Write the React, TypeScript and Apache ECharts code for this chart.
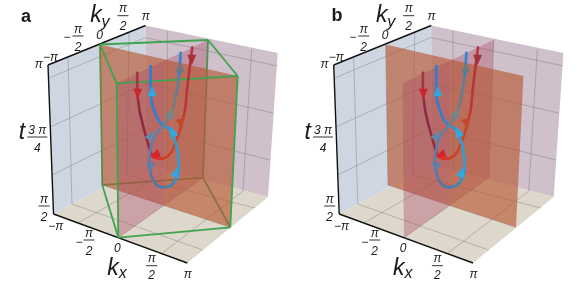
import React, { useEffect, useRef } from "react";
import * as echarts from "echarts";

type Pt = number[];

// Picture-space read-offs (panel a frame; panel b is the same figure shifted by one grid).
const wallLeft: Pt[] = [[48, 65], [145.5, 25.5], [146, 165], [53.5, 214]];
const wallRight: Pt[] = [[145.5, 25.5], [277.7, 53], [268, 197], [146, 165]];
const floor: Pt[] = [[53.5, 214], [187.3, 263], [268, 197], [146, 165]];
const planeKyRear: Pt[] = [[100, 44.5], [165, 59.4], [164, 205.4], [102.3, 185]];
const planeKyFront: Pt[] = [[165, 59.4], [237.7, 76], [230.3, 227.3], [164, 205.4]];
const planeKx: Pt[] = [[116.7, 83.3], [208, 40], [203, 177.7], [118.3, 237.7]];

const gridLines: number[][] = [
  [68, 57, 72, 204], [100, 44.5, 102.3, 185], [129, 32, 127, 175],
  [49, 78, 145, 37.6], [50, 127, 145.5, 83.5], [52, 175, 146, 128.5],
  [145, 37.6, 277.7, 66], [145.5, 83.5, 273, 113], [146, 128.5, 270, 160],
  [167.3, 31, 168, 171], [208, 40, 203, 177.7], [251.7, 49, 243, 191],
  [78.3, 223, 168, 171], [118.3, 237.7, 203, 177.7], [161.7, 253.6, 243, 191],
  [72, 204, 203, 250], [102.3, 185, 230.3, 227.3], [127, 175, 255, 208],
];
const axisLines: number[][] = [
  [48, 65, 145.5, 25.5], [48, 65, 53.5, 214], [53.5, 214, 187.3, 263],
];
const greenRear: number[][] = [
  [100, 44.5, 102.3, 185], [208, 40, 203, 177.7], [102.3, 185, 203, 177.7], [203, 177.7, 230.3, 227.3],
];
const greenFront: number[][] = [
  [100, 44.5, 208, 40], [100, 44.5, 116.7, 83.3], [208, 40, 237.7, 76], [116.7, 83.3, 237.7, 76],
  [116.7, 83.3, 118.3, 237.7], [237.7, 76, 230.3, 227.3], [118.3, 237.7, 230.3, 227.3], [102.3, 185, 118.3, 237.7],
];

const redCurve: Pt[] = [
  [137.3, 72.7], [137.3, 92], [138.5, 103], [140, 113], [145, 133], [150.7, 151.7], [154, 157.3], [163.3, 158.3],
  [171.7, 151.7], [178.3, 135], [181.7, 123.3], [185, 110], [187, 90], [190, 65], [192.3, 47.3],
];
const redCurveColors = [
  "#a8343f", "#9a3044", "#8f2d45", "#8c2b44", "#96293f", "#c02a2c", "#d4362a", "#cf4028", "#c9452a", "#c4442c", "#bc402e", "#b8383a", "#b5333a", "#b5333a",
];
const blueCurve: Pt[] = [
  [150.7, 66], [150.7, 93], [152, 103], [154, 110], [158.3, 120], [163.3, 125], [170, 130], [175, 140], [178.3, 156.7],
  [178.3, 173.3], [173.3, 183.3], [165, 187.3], [156.7, 185], [150.7, 173.3], [149.3, 160], [151.7, 143.3], [156.7, 133.3],
  [163.3, 125], [171.7, 111.7], [176, 95], [179, 75], [180.7, 52.7],
];
const blueCurveColors = [
  "#2b7fd2", "#2b7fd2", "#2b7fd2", "#2b80d3", "#2c86d6", "#2e92d8", "#2f9dd8", "#2f9dd8", "#2f9dd8",
  "#3391c8", "#3f84b4", "#4a7aa8", "#4f78a4", "#5678aa", "#5a7fae", "#5f80a4", "#62809a",
  "#6a808c", "#6b7d8a", "#5f7f98", "#2b86d4",
];

const redArrows: number[][] = [[137.7, 94, 180], [191.8, 60, 180], [181, 124, 192], [154.5, 155, 110]];
const redArrowColors = ["#c9262f", "#a82f38", "#c4482a", "#d8252c"];
const blueArrows: number[][] = [
  [152, 91, 0], [180, 67, 0], [171, 113, -25], [172.5, 131.5, 20], [176, 172, -15], [151, 135, -30], [150, 168, 170],
];
const blueArrowColors = ["#2fa8e0", "#6a7a84", "#6f8a8c", "#2fa8e0", "#2fa8e0", "#6486a8", "#5b7fae"];

// [text, x, y] in the panel frame
const plainLabels: [string, number, number][] = [
  ["\u2212\u03c0", 50.5, 56.5], ["\u03c0", 38.7, 63.5], ["\u2212", 67, 37],
  ["0", 99.5, 35], ["\u03c0", 145.7, 16], ["\u2212\u03c0", 55.8, 225.5],
  ["\u2212", 79, 241.7], ["0", 117.3, 247.7], ["\u03c0", 187.7, 274],
];
// [top, bottom, x, barY, barHalf, bottomGap]
const fractions: [string, string, number, number, number, number][] = [
  ["\u03c0", "2", 78, 36, 5.5, 10.5],
  ["\u03c0", "2", 123, 15.7, 5.5, 10.5],
  ["\u03c0", "2", 44, 206, 5.5, 10.5],
  ["\u03c0", "2", 89, 240, 5.5, 10.5],
  ["\u03c0", "2", 151.7, 265.7, 5.5, 8.8],
  ["3 \u03c0", "4", 37.3, 137, 10, 10.5],
];
const bigLabels: [string, string, number, number, number, number][] = [
  ["k", "y", 96, 14, 105.5, 21],
  ["k", "x", 113, 267, 122.7, 272.7],
  ["t", "", 22, 131, 0, 0],
];
const panelShift = 285.7;
const panelNames: [string, number, number][] = [["a", 26, 16], ["b", 337, 15]];

const LABEL = '"Liberation Sans", Arial, sans-serif';

function segmentSeries(rows: number[][], xi: number, color: string, width: number) {
  return {
    type: "custom", xAxisIndex: xi, yAxisIndex: xi, data: rows, silent: true, clip: false,
    renderItem: (_: any, api: any) => {
      const a = api.coord([api.value(0), api.value(1)]);
      const b = api.coord([api.value(2), api.value(3)]);
      return { type: "line", shape: { x1: a[0], y1: a[1], x2: b[0], y2: b[1] }, style: { stroke: color, lineWidth: width, fill: "none" } };
    },
  };
}
function faceSeries(face: Pt[], xi: number, fill: string) {
  return {
    type: "custom", xAxisIndex: xi, yAxisIndex: xi, data: face, silent: true, clip: false,
    renderItem: (p: any, api: any) => {
      if (p.dataIndex !== 0) return null;
      return { type: "polygon", shape: { points: face.map((q) => api.coord(q)) }, style: { fill } };
    },
  };
}
// Draws the read points as one continuous tube; each span has its own colour.
function curveSeries(pts: Pt[], colors: string[], xi: number) {
  return {
    type: "custom", xAxisIndex: xi, yAxisIndex: xi, data: pts, silent: true, clip: false,
    renderItem: (p: any, api: any) => {
      const i = p.dataIndex;
      if (i >= pts.length - 1) return null;
      const P = (k: number) => api.coord(pts[Math.max(0, Math.min(pts.length - 1, k))]);
      const p0 = P(i - 1), p1 = P(i), p2 = P(i + 1), p3 = P(i + 2);
      return {
        type: "bezierCurve",
        shape: {
          x1: p1[0], y1: p1[1], x2: p2[0], y2: p2[1],
          cpx1: p1[0] + (p2[0] - p0[0]) / 6, cpy1: p1[1] + (p2[1] - p0[1]) / 6,
          cpx2: p2[0] - (p3[0] - p1[0]) / 6, cpy2: p2[1] - (p3[1] - p1[1]) / 6,
        },
        style: { stroke: colors[i], lineWidth: 2.6, fill: "none", lineCap: "round" },
      };
    },
  };
}

function panelSeries(xi: number, green: boolean) {
  const s: any[] = [
    faceSeries(wallLeft, xi, "#ced6e1"),
    faceSeries(wallRight, xi, "#cfc0cb"),
    faceSeries(floor, xi, "#ded7cb"),
    segmentSeries(gridLines, xi, "rgba(85,85,85,0.38)", 0.8),
    segmentSeries(axisLines, xi, "#111111", 1.4),
  ];
  if (green) s.push(segmentSeries(greenRear, xi, "#3fa34f", 1.8));
  s.push(faceSeries(planeKyRear, xi, "rgba(183,88,50,0.64)"));
  s.push(faceSeries(planeKx, xi, "rgba(168,70,100,0.36)"));
  s.push(faceSeries(planeKyFront, xi, "rgba(183,88,50,0.64)"));
  if (green) s.push(segmentSeries(greenFront, xi, "#3fa34f", 1.8));
  s.push(curveSeries(redCurve, redCurveColors, xi));
  s.push(curveSeries(blueCurve, blueCurveColors, xi));
  const arrows = (rows: number[][], colors: string[]) => ({
    type: "scatter", xAxisIndex: xi, yAxisIndex: xi, silent: true, symbol: "triangle", symbolSize: [9, 10.5], clip: false,
    data: rows.map((r, i) => ({ value: [r[0], r[1]], symbolRotate: r[2], itemStyle: { color: colors[i], opacity: 1 } })),
  });
  s.push(arrows(redArrows, redArrowColors));
  s.push(arrows(blueArrows, blueArrowColors));
  return s;
}

function textItem(text: string, x: number, y: number, font: string) {
  return { type: "text", silent: true, z: 50, style: { text, x, y, font, fill: "#1a1a1a", align: "center", verticalAlign: "middle" } };
}

function labelGraphics(dx: number) {
  const out: any[] = [];
  const small = `italic 12px ${LABEL}`;
  for (const [t, x, y] of plainLabels) out.push(textItem(t, x + dx, y, small));
  for (const [top, bot, x, bar, half, gap] of fractions) {
    out.push(textItem(top, x + dx, bar - 7.5, small));
    out.push(textItem(bot, x + dx, bar + gap, small));
    out.push({ type: "line", silent: true, z: 50, shape: { x1: x + dx - half, y1: bar, x2: x + dx + half, y2: bar }, style: { stroke: "#333", lineWidth: 1 } });
  }
  for (const [a, b, x, y, sx, sy] of bigLabels) {
    out.push(textItem(a, x + dx, y, `italic 23px ${LABEL}`));
    if (b) out.push(textItem(b, sx + dx, sy, `italic 16px ${LABEL}`));
  }
  return out;
}

export default function App() {
  const ref = useRef<HTMLDivElement>(null);
  useEffect(() => {
    const chart = echarts.init(ref.current!, undefined, { renderer: "svg" });
    const axis = (max: number, idx: number) => ({ type: "value", min: 0, max, show: false, gridIndex: idx });
    chart.setOption({
      animation: false,
      backgroundColor: "#ffffff",
      grid: [
        { left: 0, top: 0, width: 290, height: 281 },
        { left: panelShift, top: 0, width: 290, height: 281 },
      ],
      xAxis: [axis(290, 0), axis(290, 1)],
      yAxis: [{ ...axis(281, 0), inverse: true }, { ...axis(281, 1), inverse: true }],
      series: [...panelSeries(0, true), ...panelSeries(1, false)],
      graphic: [
        ...labelGraphics(0),
        ...labelGraphics(panelShift),
        ...panelNames.map(([t, x, y]) => textItem(t, x, y, `bold 18px ${LABEL}`)),
      ],
    });
    return () => chart.dispose();
  }, []);
  return <div ref={ref} style={{ position: "fixed", left: 0, top: 0, width: 581, height: 281, filter: "blur(0.45px)" }} />;
}
